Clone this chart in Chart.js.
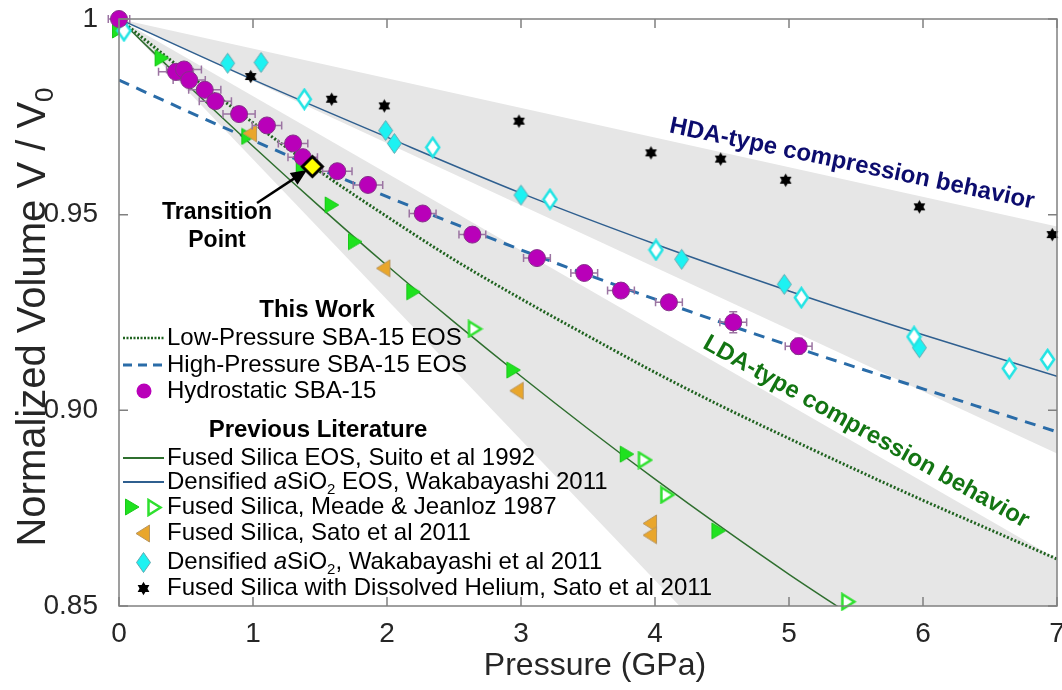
<!DOCTYPE html>
<html>
<head>
<meta charset="utf-8">
<script src="https://cdn.jsdelivr.net/npm/chart.js@4.4.0/dist/chart.umd.min.js"></script>
<style>
  html, body { margin: 0; padding: 0; background: #fff; }
  #wrap { width: 1062px; height: 690px; }
</style>
</head>
<body>
<div id="wrap"><canvas id="chart" width="1062" height="690"></canvas></div>
<script>
// axis ticks
const xTicks = [0, 1, 2, 3, 4, 5, 6, 7];
const yTicks = [0.85, 0.90, 0.95, 1];
const yTickLabels = ['0.85', '0.90', '0.95', '1'];

// this work: hydrostatic SBA-15
const hydroP = [0, 0.425, 0.485, 0.524, 0.640, 0.719, 0.896, 1.104, 1.299, 1.371, 1.629, 1.858, 2.266, 2.637, 3.119, 3.472, 3.746, 4.104, 4.584, 5.072];
const hydroV = [1.000, 0.9865, 0.9871, 0.9844, 0.9819, 0.9790, 0.9757, 0.9728, 0.9682, 0.9647, 0.9611, 0.9576, 0.9503, 0.9449, 0.9389, 0.9351, 0.9306, 0.9276, 0.9225, 0.9164];
const hydroPErr = [0.08, 0.13, 0.13, 0.12, 0.12, 0.12, 0.12, 0.11, 0.11, 0.11, 0.11, 0.11, 0.10, 0.10, 0.10, 0.10, 0.10, 0.10, 0.10, 0.10];
const hydroVErr = [0, 0, 0, 0, 0, 0, 0, 0, 0, 0, 0, 0, 0, 0, 0, 0, 0, 0, 0.0027, 0.002];
const transitionP = [1.443];
const transitionV = [0.9623];

// this work: EOS fits
const lowEosP = [0, 0.5, 1, 1.5, 2, 2.5, 3, 3.5, 4, 4.5, 5, 5.5, 6, 6.5, 7];
const lowEosV = [1.000, 0.9864, 0.9735, 0.9610, 0.9495, 0.9385, 0.9285, 0.9190, 0.9097, 0.9010, 0.8928, 0.8848, 0.8770, 0.8695, 0.8620];
const highEosP = [0, 0.5, 1, 1.5, 2, 2.5, 3, 3.5, 4, 4.5, 5, 5.5, 6, 6.5, 7];
const highEosV = [0.9844, 0.9766, 0.9690, 0.9616, 0.9546, 0.9477, 0.9410, 0.9346, 0.9284, 0.9224, 0.9166, 0.9110, 0.9055, 0.9000, 0.8945];

// previous literature: EOS curves
const suitoP = [0, 0.5, 1, 1.5, 2, 2.5, 3, 3.5, 4, 4.5, 5, 5.5];
const suitoV = [1.000, 0.9835, 0.9675, 0.9520, 0.9370, 0.9226, 0.9087, 0.8953, 0.8824, 0.8700, 0.8581, 0.8468];
const wakaEosP = [0, 1, 2, 3, 4, 5, 6, 7];
const wakaEosV = [1.000, 0.9845, 0.9698, 0.9555, 0.9425, 0.9305, 0.9193, 0.9087];

// previous literature: data points
const meadeFilledP = [0, 0.318, 0.965, 1.371, 1.587, 1.761, 2.196, 2.943, 3.789, 4.473];
const meadeFilledV = [0.9972, 0.9900, 0.9700, 0.9623, 0.9525, 0.9431, 0.9303, 0.9103, 0.8888, 0.8692];
const meadeOpenP = [2.657, 3.925, 4.092, 5.443];
const meadeOpenV = [0.9208, 0.8873, 0.8784, 0.8511];
const satoP = [0.978, 1.973, 2.968, 3.963, 3.963];
const satoV = [0.9708, 0.9363, 0.9050, 0.8711, 0.8681];
const wakaFilledP = [0.811, 1.060, 1.990, 2.055, 3.000, 4.199, 4.965, 5.973];
const wakaFilledV = [0.9887, 0.9889, 0.9715, 0.9682, 0.9550, 0.9386, 0.9322, 0.9160];
const wakaOpenP = [0.037, 1.383, 2.341, 3.216, 4.007, 5.092, 5.933, 6.644, 6.930];
const wakaOpenV = [0.9970, 0.9795, 0.9672, 0.9539, 0.9410, 0.9288, 0.9188, 0.9107, 0.9130];
const heliumP = [0.983, 1.587, 1.980, 2.985, 3.970, 4.490, 4.975, 5.973, 6.965];
const heliumV = [0.9853, 0.9795, 0.9778, 0.9739, 0.9658, 0.9642, 0.9588, 0.9520, 0.9449];

// shaded compression regions (edges)
const shadeP = [0, 7];
const hdaTopV = [1, 0.947];
const hdaBottomV = [1, 0.889];
const ldaTopV = [1, 0.862];
const ldaBottomV = [1, 0.749];

const FONT = '"Liberation Sans", Arial, sans-serif';
const TXT = '#262626';

const pts = (xs, ys) => xs.map((x, i) => ({ x: x, y: ys[i] }));

// marker images
function mk(w, h, draw) {
    const c = document.createElement('canvas');
    c.width = w; c.height = h;
    draw(c.getContext('2d'), w, h);
    return c;
}
function diamond(g, w, h, m) {
    g.beginPath();
    g.moveTo(w / 2, m); g.lineTo(w - m, h / 2); g.lineTo(w / 2, h - m); g.lineTo(m, h / 2);
    g.closePath();
}
const diamondFilled = mk(17, 23, (g, w, h) => {
    diamond(g, w, h, 1.5);
    g.fillStyle = '#1df2f2'; g.fill();
    g.strokeStyle = '#62a9b0'; g.lineWidth = 1; g.stroke();
});
const diamondOpen = mk(17, 23, (g, w, h) => {
    diamond(g, w, h, 2);
    g.fillStyle = '#ffffff'; g.fill();
    g.strokeStyle = '#22e4e4'; g.lineWidth = 2.5; g.stroke();
});
const diamondYellow = mk(25, 25, (g, w, h) => {
    diamond(g, w, h, 2.5);
    g.fillStyle = '#ffff00'; g.fill();
    g.strokeStyle = '#000'; g.lineWidth = 3; g.lineJoin = 'miter'; g.stroke();
});
const triRightFilled = mk(16, 18, (g, w, h) => {
    g.beginPath(); g.moveTo(1.5, 1); g.lineTo(w - 1, h / 2); g.lineTo(1.5, h - 1); g.closePath();
    g.fillStyle = '#1fe21f'; g.fill();
    g.strokeStyle = '#1ac81a'; g.lineWidth = 1; g.stroke();
});
const triRightOpen = mk(17, 19, (g, w, h) => {
    g.beginPath(); g.moveTo(2.5, 2); g.lineTo(w - 2.5, h / 2); g.lineTo(2.5, h - 2); g.closePath();
    g.fillStyle = '#fff'; g.fill();
    g.strokeStyle = '#2ee02e'; g.lineWidth = 2.5; g.stroke();
});
const triLeftOrange = mk(16, 19, (g, w, h) => {
    g.beginPath(); g.moveTo(w - 1.5, 1); g.lineTo(1, h / 2); g.lineTo(w - 1.5, h - 1); g.closePath();
    g.fillStyle = '#e9a62b'; g.fill();
    g.strokeStyle = '#b89660'; g.lineWidth = 1; g.stroke();
});
const starBlack = mk(15, 15, (g, w, h) => {
    const r = 6.8, cx = w / 2, cy = h / 2;
    g.fillStyle = '#000';
    [-90, 90].forEach(a0 => {
        g.beginPath();
        for (let k = 0; k < 3; k++) {
            const a = (a0 + k * 120) * Math.PI / 180;
            g[k ? 'lineTo' : 'moveTo'](cx + r * Math.cos(a), cy + r * Math.sin(a));
        }
        g.closePath(); g.fill();
    });
});

const HYDRO = 14;

const decor = {
    id: 'decor',
    beforeDatasetDraw(chart, args) {
        if (args.index !== HYDRO) return;
        const { ctx, scales: { x, y } } = chart;
        ctx.save();
        ctx.strokeStyle = '#9b74a2';
        ctx.lineWidth = 1.5;
        hydroP.forEach((p, i) => {
            const px = x.getPixelForValue(p), py = y.getPixelForValue(hydroV[i]);
            const x0 = x.getPixelForValue(p - hydroPErr[i]), x1 = x.getPixelForValue(p + hydroPErr[i]);
            ctx.beginPath();
            ctx.moveTo(x0, py); ctx.lineTo(x1, py);
            ctx.moveTo(x0, py - 4); ctx.lineTo(x0, py + 4);
            ctx.moveTo(x1, py - 4); ctx.lineTo(x1, py + 4);
            if (hydroVErr[i] > 0) {
                const y0 = y.getPixelForValue(hydroV[i] + hydroVErr[i]), y1 = y.getPixelForValue(hydroV[i] - hydroVErr[i]);
                ctx.moveTo(px, y0); ctx.lineTo(px, y1);
                ctx.moveTo(px - 4, y0); ctx.lineTo(px + 4, y0);
                ctx.moveTo(px - 4, y1); ctx.lineTo(px + 4, y1);
            }
            ctx.stroke();
        });
        ctx.restore();
    },
    afterDraw(chart) {
        const { ctx, chartArea: a, scales: { x, y } } = chart;
        ctx.save();
        // axes box with inward ticks
        ctx.strokeStyle = '#808080';
        ctx.lineWidth = 1.5;
        ctx.strokeRect(a.left, a.top, a.right - a.left, a.bottom - a.top);
        ctx.beginPath();
        xTicks.forEach(v => {
            const px = x.getPixelForValue(v);
            ctx.moveTo(px, a.bottom); ctx.lineTo(px, a.bottom - 9);
            ctx.moveTo(px, a.top); ctx.lineTo(px, a.top + 9);
        });
        yTicks.forEach(v => {
            const py = y.getPixelForValue(v);
            ctx.moveTo(a.left, py); ctx.lineTo(a.left + 9, py);
            ctx.moveTo(a.right, py); ctx.lineTo(a.right - 9, py);
        });
        ctx.stroke();

        // axis titles
        ctx.fillStyle = TXT;
        ctx.textBaseline = 'alphabetic';
        ctx.textAlign = 'center';
        ctx.font = '32px ' + FONT;
        ctx.fillText('Pressure (GPa)', 595, 675);

        ctx.save();
        ctx.translate(45, 317);
        ctx.rotate(-Math.PI / 2);
        const main = 'Normalized Volume V / V';
        ctx.font = '40px ' + FONT;
        const w1 = ctx.measureText(main).width;
        ctx.font = '26px ' + FONT;
        const w2 = ctx.measureText('0').width;
        ctx.textAlign = 'left';
        ctx.font = '40px ' + FONT;
        ctx.fillText(main, -(w1 + w2) / 2, 0);
        ctx.font = '26px ' + FONT;
        ctx.fillText('0', -(w1 + w2) / 2 + w1, 8);
        ctx.restore();

        // region labels
        ctx.font = 'bold 24px ' + FONT;
        ctx.textBaseline = 'middle';
        ctx.textAlign = 'center';
        ctx.save();
        ctx.translate(852, 164);
        ctx.rotate(Math.atan2(76, 363));
        ctx.fillStyle = '#0c0c6e';
        ctx.fillText('HDA-type compression behavior', 0, 0);
        ctx.restore();
        ctx.save();
        ctx.translate(866, 432);
        ctx.rotate(Math.atan2(185, 330));
        ctx.fillStyle = '#137513';
        ctx.fillText('LDA-type compression behavior', 0, 0);
        ctx.restore();

        // transition point label and arrow
        ctx.fillStyle = '#000';
        ctx.font = 'bold 23px ' + FONT;
        ctx.fillText('Transition', 217, 213);
        ctx.fillText('Point', 217, 241);
        const tx = 257, ty = 203, hx = 307, hy = 170;
        const ang = Math.atan2(hy - ty, hx - tx);
        ctx.strokeStyle = '#000';
        ctx.lineWidth = 2.5;
        ctx.beginPath();
        ctx.moveTo(tx, ty);
        ctx.lineTo(hx - 12 * Math.cos(ang), hy - 12 * Math.sin(ang));
        ctx.stroke();
        ctx.beginPath();
        ctx.moveTo(hx, hy);
        ctx.lineTo(hx - 16 * Math.cos(ang) + 7 * Math.sin(ang), hy - 16 * Math.sin(ang) - 7 * Math.cos(ang));
        ctx.lineTo(hx - 16 * Math.cos(ang) - 7 * Math.sin(ang), hy - 16 * Math.sin(ang) + 7 * Math.cos(ang));
        ctx.closePath();
        ctx.fill();

        // legend
        const tx0 = 167;
        ctx.textAlign = 'center';
        ctx.font = 'bold 24px ' + FONT;
        ctx.fillStyle = '#000';
        ctx.fillText('This Work', 317, 310);
        ctx.fillText('Previous Literature', 318, 430);

        const rich = (parts, yy) => {
            let xx = tx0;
            ctx.textAlign = 'left';
            parts.forEach(pp => {
                if (typeof pp === 'string') pp = { t: pp };
                ctx.font = (pp.i ? 'italic ' : '') + (pp.sub ? '15px ' : '24px ') + FONT;
                ctx.fillText(pp.t, xx, yy + (pp.sub ? 8 : 0));
                xx += ctx.measureText(pp.t).width;
            });
        };
        const sample = (color, dash, width, yy) => {
            ctx.save();
            ctx.strokeStyle = color;
            ctx.lineWidth = width;
            ctx.setLineDash(dash);
            ctx.beginPath();
            ctx.moveTo(123, yy); ctx.lineTo(164, yy);
            ctx.stroke();
            ctx.restore();
        };
        const img = (im, cx, cy) => ctx.drawImage(im, Math.round(cx - im.width / 2), Math.round(cy - im.height / 2));

        sample('#1f621f', [2, 1.5], 2.5, 338);
        rich(['Low-Pressure SBA-15 EOS'], 338);
        sample('#2a6ca8', [9, 6], 3, 365);
        rich(['High-Pressure SBA-15 EOS'], 365);
        ctx.beginPath();
        ctx.arc(144, 391, 7.5, 0, Math.PI * 2);
        ctx.fillStyle = '#b900b9';
        ctx.fill();
        ctx.fillStyle = '#000';
        rich(['Hydrostatic SBA-15'], 391);

        sample('#2f6f2f', [], 2, 458);
        rich(['Fused Silica EOS, Suito et al 1992'], 458);
        sample('#2f5f8f', [], 2, 482);
        rich(['Densified ', { t: 'a', i: true }, 'SiO', { t: '2', sub: true }, ' EOS, Wakabayashi 2011'], 482);
        img(triRightFilled, 132, 507);
        img(triRightOpen, 154, 507);
        rich(['Fused Silica, Meade & Jeanloz 1987'], 507);
        img(triLeftOrange, 143, 533);
        rich(['Fused Silica, Sato et al 2011'], 533);
        img(diamondFilled, 143, 562);
        rich(['Densified ', { t: 'a', i: true }, 'SiO', { t: '2', sub: true }, ', Wakabayashi et al 2011'], 562);
        img(starBlack, 143, 588);
        rich(['Fused Silica with Dissolved Helium, Sato et al 2011'], 588);
        ctx.restore();
    }
};

const shade = (ys, fill) => ({
    data: pts(shadeP, ys), showLine: true, borderWidth: 0, pointRadius: 0,
    fill: fill, backgroundColor: '#e6e6e6', order: 10
});
const curve = (xs, ys, color, width, dash) => ({
    data: pts(xs, ys), showLine: true, borderColor: color, borderWidth: width,
    borderDash: dash, pointRadius: 0, fill: false, cubicInterpolationMode: 'monotone', order: 5
});
const marks = (xs, ys, style, order) => ({
    data: pts(xs, ys), showLine: false, pointStyle: style, pointRadius: 9, clip: false, order: order
});

new Chart(document.getElementById('chart'), {
    type: 'scatter',
    data: {
        datasets: [
            shade(hdaTopV, '+1'),
            shade(hdaBottomV, false),
            shade(ldaTopV, '+1'),
            shade(ldaBottomV, false),
            curve(suitoP, suitoV, '#2f6f2f', 1.5, []),
            curve(wakaEosP, wakaEosV, '#2f5f8f', 1.5, []),
            curve(lowEosP, lowEosV, '#1f621f', 3, [2, 2]),
            curve(highEosP, highEosV, '#2a6ca8', 3, [11, 8]),
            marks(heliumP, heliumV, starBlack, 3),
            marks(wakaOpenP, wakaOpenV, diamondOpen, 3),
            marks(wakaFilledP, wakaFilledV, diamondFilled, 3),
            marks(satoP, satoV, triLeftOrange, 3),
            marks(meadeOpenP, meadeOpenV, triRightOpen, 3),
            marks(meadeFilledP, meadeFilledV, triRightFilled, 3),
            {
                data: pts(hydroP, hydroV), showLine: false, pointStyle: 'circle', pointRadius: 8.5,
                backgroundColor: '#b900b9', borderColor: '#86318a', borderWidth: 1, clip: false, order: 2
            },
            marks(transitionP, transitionV, diamondYellow, 1)
        ]
    },
    options: {
        responsive: false,
        animation: false,
        events: [],
        layout: { autoPadding: false, padding: { left: 0, top: 19, right: 5, bottom: 0 } },
        plugins: {
            legend: { display: false },
            tooltip: { enabled: false },
            filler: { drawTime: 'beforeDatasetsDraw' }
        },
        scales: {
            x: {
                type: 'linear', min: 0, max: 7,
                grid: { display: false }, border: { display: false },
                ticks: { stepSize: 1, color: TXT, font: { family: FONT, size: 28 }, padding: 3, maxRotation: 0 },
                afterBuildTicks: s => { s.ticks = xTicks.map(v => ({ value: v })); },
                afterFit: s => { s.height = 84; s.paddingLeft = 0; s.paddingRight = 0; }
            },
            y: {
                type: 'linear', min: 0.85, max: 1,
                grid: { display: false }, border: { display: false },
                ticks: {
                    color: TXT, font: { family: FONT, size: 28 }, padding: 13,
                    callback: (v) => yTickLabels[yTicks.findIndex(t => Math.abs(t - v) < 1e-6)]
                },
                afterBuildTicks: s => { s.ticks = yTicks.map(v => ({ value: v })); },
                afterFit: s => { s.width = 119; s.paddingTop = 0; s.paddingBottom = 0; }
            }
        }
    },
    plugins: [decor]
});
</script>
</body>
</html>
